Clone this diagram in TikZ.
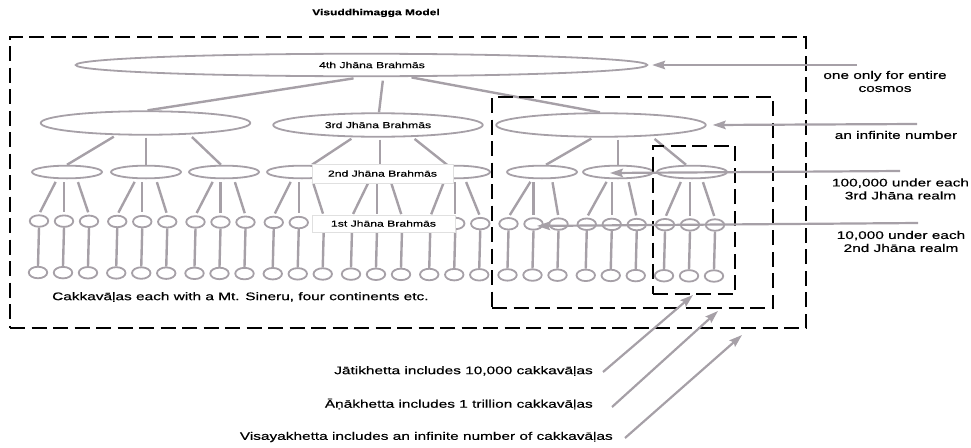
\documentclass[tikz,border=0pt]{standalone}
\usepackage{fontspec}
\setmainfont{Liberation Sans}[FakeStretch=1.4,FakeBold=0.4]
\usetikzlibrary{shapes.geometric,arrows.meta,calc}
\definecolor{tg}{RGB}{166,160,167}
\begin{document}
\begin{tikzpicture}[x=1pt,y=-1pt,
  shp/.style={ellipse,draw=tg,line width=1.8pt,inner sep=0pt},
  lvfour/.style={shp,minimum width=571.5pt,minimum height=22.5pt},
  lvthree/.style={shp,minimum width=209.5pt,minimum height=23.5pt},
  lvtwo/.style={shp,minimum width=70pt,minimum height=12.7pt},
  lvone/.style={shp,minimum width=18.5pt,minimum height=11.5pt},
  conn/.style={draw=tg,line width=2.4pt},
  lab/.style={font=\fontsize{8.7}{10}\selectfont},
  tag/.style={lab,draw=black!12,fill=white,line width=0.6pt,inner sep=0pt},
  dbox/.style={rectangle,draw=black,line width=2pt,dash pattern=on 15pt off 6.5pt,inner sep=0pt},
  arr/.style={draw=tg,line width=2.2pt,-{Stealth[length=13pt,width=8.5pt,inset=2pt]}},
  note/.style={font=\fontsize{11}{13}\selectfont,align=center,inner sep=0pt},
]
\useasboundingbox (0,0) rectangle (971,447);

% title
\node[font=\bfseries\fontsize{8.6}{10}\selectfont] (title) at (376,13) {Visuddhimagga Model};

% level 4
\node[lvfour] (p4) at (361.5,65) {};
\node[lab] (t4) at (372,65) {4th Jhāna Brahmās};
% level 3
\node[lvthree] (p3a) at (145.5,123) {};
\node[lvthree,lab] (p3b) at (378,125) {3rd Jhāna Brahmās};
\node[lvthree] (p3c) at (601,125) {};
% level 2
\foreach \x [count=\i] in {67,146,224,302,380,455,542,618,692}
  \node[lvtwo] (e\i) at (\x,172) {};
% level 1 and cakkavalas
\foreach \k in {0,...,8}{
  \foreach \j in {0,1,2}{
    \pgfmathtruncatemacro\n{3*\k+\j+1}
    \pgfmathsetmacro\cx{64+78.25*\k+25*(\j-1)}
    \pgfmathsetmacro\ty{221+4*(3*\k+\j)/26}
    \pgfmathsetmacro\by{272.5+3.5*(3*\k+\j)/26}
    \node[lvone] (c\n) at (\cx,\ty) {};
    \node[lvone] (b\n) at (\cx-1,\by) {};
    \draw[conn] (c\n.south) -- (b\n.north);
  }
}
% level 2 -> level 1 connectors
\foreach \m in {1,...,9}{
  \pgfmathtruncatemacro\a{3*\m-2}
  \pgfmathtruncatemacro\b{3*\m-1}
  \pgfmathtruncatemacro\c{3*\m}
  \draw[conn,shorten <=3pt,shorten >=2.5pt] ($(e\m.south)+(-10,0)$) -- (c\a.north);
  \draw[conn,shorten <=3pt,shorten >=2.5pt] (c\b.north |- e\m.south) -- (c\b.north);
  \draw[conn,shorten <=3pt,shorten >=2.5pt] ($(e\m.south)+(10,0)$) -- (c\c.north);
}
% level 3 -> level 2
\draw[conn,shorten <=2pt] ($(p3a.south)+(-30,0)$) -- (e1.north);
\draw[conn,shorten <=2pt] (e2.north |- p3a.south) -- (e2.north);
\draw[conn,shorten <=2pt] ($(p3a.south)+(45,0)$) -- ($(e3.north)+(-3,0)$);
\draw[conn,shorten <=2pt] ($(p3b.south)+(-25,0)$) -- ($(e4.north)+(10,0)$);
\draw[conn,shorten <=2pt] (e5.north |- p3b.south) -- (e5.north);
\draw[conn,shorten <=2pt] ($(p3b.south)+(35,0)$) -- ($(e6.north)+(-8,0)$);
\draw[conn,shorten <=2pt] ($(p3c.south)+(-8,0)$) -- ($(e7.north)+(4,0)$);
\draw[conn,shorten <=2pt] (e8.north |- p3c.south) -- (e8.north);
\draw[conn,shorten <=2pt] ($(p3c.south)+(52,0)$) -- ($(e9.north)+(-6,0)$);
% level 4 -> level 3
\draw[conn,shorten <=1.5pt] ($(p4.south)+(-6.5,1)$) -- ($(p3a.north)+(2,0)$);
\draw[conn,shorten <=1.5pt] ($(p4.south)+(21.5,2)$) -- ($(p3b.north)+(1,0)$);
\draw[conn,shorten <=1.5pt] ($(p4.south)+(48.5,0)$) -- ($(p3c.north)+(-1,0)$);

% labels over the tree
\node[tag,minimum width=141pt,minimum height=19pt] (l2) at (382.5,173.5) {2nd Jhāna Brahmās};
\node[tag,minimum width=143pt,minimum height=17pt] (l1) at (383.5,223.5) {1st Jhāna Brahmās};

% dashed boxes
\node[dbox,minimum width=796pt,minimum height=291pt] (outer) at (408,182.5) {};
\node[dbox,minimum width=281pt,minimum height=211pt] (mid) at (632.5,202.5) {};
\node[dbox,minimum width=82pt,minimum height=148pt] (inner) at (694,220) {};

% texts
\node[note] (n1) at (885,81.5) {one only for entire\\cosmos};
\node[note] (n2) at (896,135) {an infinite number};
\node[note] (n3) at (900.5,189) {100,000 under each\\3rd Jhāna realm};
\node[note] (n4) at (901,241.5) {10,000 under each\\2nd Jhāna realm};
\node[note,anchor=west] (cak) at (52,297) {Cakkavāḷas each with a Mt. Sineru, four continents etc.};
\node[note,anchor=east] (jt) at (593,371) {Jātikhetta includes 10,000 cakkavāḷas};
\node[note,anchor=east] (an) at (593,404) {Āṇākhetta includes 1 trillion cakkavāḷas};
\node[note,anchor=east] (vs) at (613,437) {Visayakhetta includes an infinite number of cakkavāḷas};

% arrows
\coordinate (s1) at (857,65);
\coordinate (s2) at (917,124);
\coordinate (s3) at (900,171);
\coordinate (s4) at (918,223);
\draw[arr] (s1) -- ($(p4.east)+(4,0)$);
\draw[arr] (s2) -- ($(p3c.east)+(6,0)$);
\draw[arr] (s3) -- ($(e8.center)+(-8,1)$);
\draw[arr] (s4) -- ($(c20.center)+(3.5,2)$);
\draw[arr] ($(jt.east)+(10,1)$) -- ($(inner.south)+(-1,0)$);
\draw[arr] ($(an.east)+(19,3)$) -- ($(mid.south)+(85.5,2)$);
\draw[arr] ($(vs.east)+(12,1)$) -- ($(outer.south)+(334,6)$);
\end{tikzpicture}
\end{document}
